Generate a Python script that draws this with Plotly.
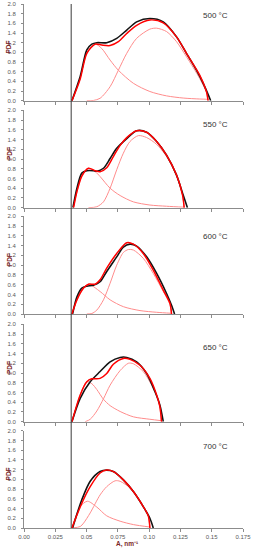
import plotly.graph_objects as go

# ---------------- data ----------------
TEMPS = ["500 °C", "550 °C", "600 °C", "650 °C", "700 °C"]

X_TICKS = [0.0, 0.025, 0.05, 0.075, 0.10, 0.125, 0.15, 0.175]
X_TICK_TEXT = ["0.00", "0.025", "0.05", "0.075", "0.10", "0.125", "0.15", "0.175"]
Y_TICKS = [0.0, 0.2, 0.4, 0.6, 0.8, 1.0, 1.2, 1.4, 1.6, 1.8, 2.0]
CUTOFF_A = 0.0377

# experimental PDF (black)
EXP_A = [
    [0.0383, 0.0449, 0.0502, 0.0542, 0.0582, 0.0661, 0.0741, 0.0821, 0.0900, 0.1006, 0.1113, 0.1219, 0.1298, 0.1378, 0.1444, 0.1492],
    [0.0391, 0.0423, 0.0462, 0.0502, 0.0555, 0.0582, 0.0635, 0.0688, 0.0741, 0.0821, 0.0900, 0.0980, 0.1060, 0.1139, 0.1219, 0.1272, 0.1306],
    [0.0388, 0.0423, 0.0462, 0.0502, 0.0555, 0.0608, 0.0661, 0.0741, 0.0794, 0.0847, 0.0900, 0.0980, 0.1060, 0.1139, 0.1179, 0.1203],
    [0.0383, 0.0449, 0.0529, 0.0608, 0.0688, 0.0768, 0.0821, 0.0900, 0.0980, 0.1046, 0.1086, 0.1113],
    [0.0388, 0.0462, 0.0529, 0.0608, 0.0661, 0.0714, 0.0794, 0.0874, 0.0953, 0.1006, 0.1033],
]
EXP_PDF = [
    [0.00, 0.50, 1.05, 1.17, 1.20, 1.20, 1.29, 1.46, 1.63, 1.70, 1.63, 1.32, 0.98, 0.63, 0.29, 0.00],
    [0.00, 0.40, 0.71, 0.76, 0.76, 0.75, 0.81, 1.01, 1.22, 1.42, 1.58, 1.55, 1.36, 1.08, 0.67, 0.26, 0.00],
    [0.00, 0.35, 0.53, 0.57, 0.59, 0.66, 0.87, 1.17, 1.37, 1.43, 1.39, 1.17, 0.83, 0.42, 0.18, 0.00],
    [0.00, 0.48, 0.82, 1.03, 1.23, 1.32, 1.32, 1.23, 0.99, 0.62, 0.34, 0.00],
    [0.00, 0.58, 0.96, 1.16, 1.19, 1.16, 0.99, 0.75, 0.44, 0.20, 0.00],
]

# fitted sum (red)
FIT_A = [
    [0.0383, 0.0449, 0.0502, 0.0569, 0.0621, 0.0688, 0.0754, 0.0821, 0.0900, 0.1006, 0.1113, 0.1219, 0.1298, 0.1404, 0.1458, 0.1471],
    [0.0396, 0.0423, 0.0462, 0.0515, 0.0569, 0.0608, 0.0661, 0.0714, 0.0768, 0.0821, 0.0900, 0.0980, 0.1060, 0.1139, 0.1219, 0.1267, 0.1280],
    [0.0383, 0.0423, 0.0476, 0.0515, 0.0569, 0.0608, 0.0661, 0.0741, 0.0821, 0.0874, 0.0953, 0.1033, 0.1113, 0.1166, 0.1179],
    [0.0383, 0.0449, 0.0502, 0.0542, 0.0608, 0.0661, 0.0714, 0.0794, 0.0847, 0.0927, 0.1006, 0.1060, 0.1086, 0.1099],
    [0.0383, 0.0462, 0.0529, 0.0608, 0.0661, 0.0714, 0.0794, 0.0874, 0.0953, 0.0993, 0.1006],
]
FIT_PDF = [
    [0.00, 0.45, 0.98, 1.17, 1.15, 1.14, 1.22, 1.39, 1.56, 1.67, 1.61, 1.32, 0.98, 0.53, 0.19, 0.00],
    [0.00, 0.33, 0.65, 0.81, 0.76, 0.74, 0.82, 1.05, 1.28, 1.44, 1.58, 1.55, 1.36, 1.08, 0.67, 0.26, 0.00],
    [0.00, 0.29, 0.53, 0.61, 0.61, 0.70, 0.94, 1.24, 1.46, 1.43, 1.24, 0.90, 0.49, 0.22, 0.00],
    [0.00, 0.55, 0.82, 0.88, 0.89, 0.99, 1.18, 1.30, 1.28, 1.16, 0.89, 0.55, 0.31, 0.00],
    [0.00, 0.51, 0.85, 1.13, 1.19, 1.16, 0.99, 0.75, 0.44, 0.25, 0.00],
]

# first component (light red)
C1_A = [
    [0.0383, 0.0449, 0.0502, 0.0569, 0.0621, 0.0688, 0.0754, 0.0874, 0.1006, 0.1139, 0.1272, 0.1404, 0.1471],
    [0.0396, 0.0423, 0.0462, 0.0515, 0.0569, 0.0608, 0.0688, 0.0768, 0.0874, 0.1006, 0.1139, 0.1280],
    [0.0383, 0.0423, 0.0476, 0.0515, 0.0608, 0.0688, 0.0794, 0.0927, 0.1060, 0.1179],
    [0.0383, 0.0449, 0.0502, 0.0542, 0.0582, 0.0635, 0.0688, 0.0768, 0.0874, 0.1006, 0.1099],
    [0.0383, 0.0449, 0.0507, 0.0582, 0.0661, 0.0768, 0.0874, 0.1006],
]
C1_PDF = [
    [0.00, 0.47, 0.98, 1.17, 1.08, 0.84, 0.63, 0.36, 0.19, 0.10, 0.055, 0.035, 0.03],
    [0.00, 0.33, 0.65, 0.81, 0.74, 0.64, 0.40, 0.25, 0.12, 0.055, 0.03, 0.01],
    [0.00, 0.29, 0.53, 0.61, 0.46, 0.29, 0.15, 0.07, 0.035, 0.015],
    [0.00, 0.55, 0.82, 0.78, 0.66, 0.46, 0.33, 0.21, 0.10, 0.05, 0.02],
    [0.00, 0.44, 0.55, 0.43, 0.25, 0.14, 0.07, 0.02],
]

# second component (light red)
C2_A = [
    [0.0502, 0.0555, 0.0608, 0.0688, 0.0754, 0.0821, 0.0900, 0.1006, 0.1060, 0.1139, 0.1219, 0.1298, 0.1404, 0.1458, 0.1471],
    [0.0515, 0.0582, 0.0635, 0.0688, 0.0741, 0.0794, 0.0847, 0.0914, 0.0980, 0.1060, 0.1139, 0.1219, 0.1267, 0.1280],
    [0.0502, 0.0542, 0.0582, 0.0635, 0.0688, 0.0741, 0.0794, 0.0834, 0.0874, 0.0953, 0.1033, 0.1113, 0.1166, 0.1179],
    [0.0489, 0.0529, 0.0582, 0.0635, 0.0688, 0.0768, 0.0834, 0.0874, 0.0953, 0.1020, 0.1073, 0.1099],
    [0.0383, 0.0449, 0.0476, 0.0529, 0.0608, 0.0661, 0.0728, 0.0768, 0.0847, 0.0927, 0.0993, 0.1006],
]
C2_PDF = [
    [0.00, 0.005, 0.05, 0.29, 0.63, 0.98, 1.29, 1.48, 1.50, 1.43, 1.22, 0.91, 0.46, 0.17, 0.00],
    [0.00, 0.02, 0.12, 0.40, 0.78, 1.12, 1.36, 1.48, 1.44, 1.30, 1.05, 0.65, 0.25, 0.00],
    [0.00, 0.01, 0.08, 0.29, 0.63, 1.00, 1.26, 1.32, 1.31, 1.14, 0.83, 0.46, 0.20, 0.00],
    [0.00, 0.05, 0.22, 0.47, 0.75, 1.05, 1.20, 1.19, 1.03, 0.75, 0.45, 0.00],
    [0.00, 0.03, 0.10, 0.31, 0.68, 0.85, 0.97, 0.96, 0.82, 0.55, 0.24, 0.00],
]

# ---------------- figure ----------------
W, H = 253, 550
ML, MR, MT, MB = 24, 10, 4, 22
plot_h = H - MT - MB
# panel pixel extents (top, bottom) in page pixels
PANEL_PX = [(4, 100.7), (110.3, 207.7), (216.3, 314.0), (324.3, 421.7), (430.7, 528.0)]

def to_paper(ypix):
    return min(1.0, max(0.0, (H - MB - ypix) / plot_h))

TEMP_Y = [1.77, 1.70, 1.58, 1.53, 1.67]

TICK_FONT = dict(family="Liberation Sans, Arial", size=6, color="#595959")
TITLE_COLOR = "#7a2626"
AX_COLOR = "#8c8c8c"

fig = go.Figure()
layout = dict(
    template="none",
    width=W, height=H,
    margin=dict(l=ML, r=MR, t=MT, b=MB, pad=0),
    paper_bgcolor="white", plot_bgcolor="white",
    showlegend=False,
    font=dict(family="Liberation Sans, Arial", size=7, color="#404040"),
    annotations=[], shapes=[],
)

for i in range(5):
    n = "" if i == 0 else str(i + 1)
    xa, ya = "x" + n, "y" + n
    for xs, ys, col, w in [
        (C1_A[i], C1_PDF[i], "#ff8c8c", 1),
        (C2_A[i], C2_PDF[i], "#ff8c8c", 1),
        (EXP_A[i], EXP_PDF[i], "#141414", 1.6),
        (FIT_A[i], FIT_PDF[i], "#ff0000", 1.5),
    ]:
        fig.add_trace(go.Scatter(
            x=xs, y=ys, mode="lines", xaxis=xa, yaxis=ya,
            line=dict(color=col, width=w, shape="spline", smoothing=0.8),
            hoverinfo="skip", cliponaxis=False,
        ))
    top, bot = PANEL_PX[i]
    last = i == 4
    layout["xaxis" + n] = dict(
        domain=[0, 1], anchor=ya, range=[0, 0.175], automargin=False,
        tickvals=X_TICKS, ticktext=X_TICK_TEXT, showticklabels=last,
        ticks="outside", ticklen=3, tickwidth=1, tickcolor=AX_COLOR,
        showline=True, linecolor=AX_COLOR, linewidth=1,
        showgrid=False, zeroline=False, tickfont=TICK_FONT,
    )
    layout["yaxis" + n] = dict(
        domain=[to_paper(bot), to_paper(top)], anchor=xa, range=[0, 2.0],
        automargin=False,
        tickvals=Y_TICKS, tickformat=".1f", ticklabelstandoff=4,
        ticks="outside", ticklen=2, tickwidth=1, tickcolor=AX_COLOR,
        showline=True, linecolor=AX_COLOR, linewidth=1,
        showgrid=False, zeroline=False, tickfont=TICK_FONT,
    )
    layout["annotations"].append(dict(
        x=0.1533, y=TEMP_Y[i], xref=xa, yref=ya, text=TEMPS[i],
        showarrow=False, font=dict(size=8, color="#333333"),
    ))
    layout["annotations"].append(dict(
        x=-0.094, y=0.56, xref="paper", yref=ya + " domain", text="<b>PDF</b>",
        textangle=-90, showarrow=False, font=dict(size=6.5, color=TITLE_COLOR),
    ))

layout["annotations"].append(dict(
    x=0.47, y=-0.042, xref="paper", yref="paper", yanchor="bottom",
    text="<b>A, nm⁻¹</b>",
    showarrow=False, font=dict(size=6.5, color=TITLE_COLOR),
))
layout["shapes"].append(dict(
    type="line", xref="x5", yref="paper", x0=CUTOFF_A, x1=CUTOFF_A, y0=0, y1=1.0,
    line=dict(color="#3a3a3a", width=1), layer="above",
))

fig.update_layout(**layout)
fig.write_html(
    "out.html",
    config={"displayModeBar": False},
    post_script="document.body.style.margin='0';document.body.style.padding='0';",
)
